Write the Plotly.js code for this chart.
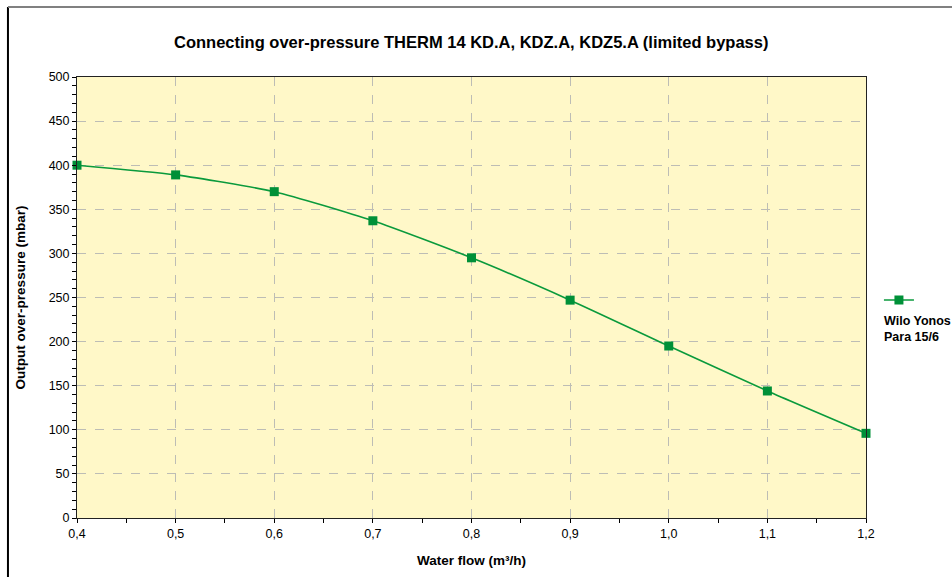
<!DOCTYPE html>
<html>
<head>
<meta charset="utf-8">
<script src="https://cdn.plot.ly/plotly-3.0.1.min.js"></script>
<style>html,body{margin:0;padding:0;background:#fff;}#chart{width:952px;height:577px;}</style>
</head>
<body>
<div id="chart"></div>
<script>
var flow = [0.4, 0.5, 0.6, 0.7, 0.8, 0.9, 1.0, 1.1, 1.2];
var pressure = [400, 389, 370, 337, 295, 247, 195, 144, 96];
var seriesName = "Wilo Yonos<br>Para 15/6";
var chartTitle = "Connecting over-pressure THERM 14 KD.A, KDZ.A, KDZ5.A (limited bypass)";
var xTitle = "Water flow (m³/h)";
var yTitle = "Output over-pressure (mbar)";

var font = "Liberation Sans, Arial, sans-serif";
var green = "#0A9A3C";

var trace = {
  x: flow, y: pressure, type: "scatter", mode: "lines+markers",
  name: "",
  line: {color: green, width: 1.6, shape: "spline", smoothing: 0.6},
  marker: {symbol: "square", size: 9, color: "#009038"},
  cliponaxis: false,
  showlegend: true
};

var layout = {
  width: 952, height: 577,
  margin: {l: 77, r: 86, t: 77, b: 59},
  paper_bgcolor: "#ffffff",
  plot_bgcolor: "#FFF8C8",
  font: {family: font, size: 12.5, color: "#000"},
  separators: ",.",
  title: {text: "<b>" + chartTitle + "</b>", x: 0.495, xanchor: "center", y: 0.927, yanchor: "middle",
          font: {family: font, size: 16.5, color: "#000"}},
  xaxis: {
    range: [0.4, 1.2], dtick: 0.1, tick0: 0.4, tickformat: ".1f",
    showgrid: true, gridcolor: "#BDBDB5", griddash: "dash", gridwidth: 1,
    showline: true, linecolor: "#222", linewidth: 1, mirror: true,
    ticks: "outside", ticklen: 4, tickcolor: "#000",
    minor: {dtick: 0.05, ticks: "outside", ticklen: 4, tickcolor: "#000", showgrid: false},
    zeroline: false, fixedrange: true,
    title: {text: "<b>" + xTitle + "</b>", font: {family: font, size: 13.5}, standoff: 15}
  },
  yaxis: {
    range: [0, 500], dtick: 50, tick0: 0,
    showgrid: true, gridcolor: "#BDBDB5", griddash: "dash", gridwidth: 1,
    showline: true, linecolor: "#222", linewidth: 1, mirror: true,
    ticks: "outside", ticklen: 4, tickcolor: "#000",
    minor: {dtick: 10, ticks: "outside", ticklen: 4, tickcolor: "#000", showgrid: false},
    zeroline: false, fixedrange: true,
    title: {text: "<b>" + yTitle + "</b>", font: {family: font, size: 13.5}, standoff: 19}
  },
  showlegend: true,
  legend: {x: 1.0164, xanchor: "left", y: 0.4615, yanchor: "bottom", bgcolor: "rgba(0,0,0,0)",
           font: {family: font, size: 12}, itemwidth: 30},
  annotations: [{
    xref: "paper", yref: "paper", x: 1.0203, y: 0.466, xanchor: "left", yanchor: "top",
    text: "<b>" + seriesName + "</b>", showarrow: false, align: "left",
    font: {family: font, size: 12.5, color: "#000"}
  }],
  shapes: [
    {type: "line", xref: "paper", yref: "paper", x0: -0.0875, x1: -0.0875, y0: 1.159, y1: -0.14,
     line: {color: "#000", width: 2}},
    {type: "line", xref: "paper", yref: "paper", x0: -0.0875, x1: 1.12, y0: 1.159, y1: 1.159,
     line: {color: "#808080", width: 2}}
  ]
};

Plotly.newPlot("chart", [trace], layout, {displayModeBar: false, staticPlot: true});
</script>
</body>
</html>
